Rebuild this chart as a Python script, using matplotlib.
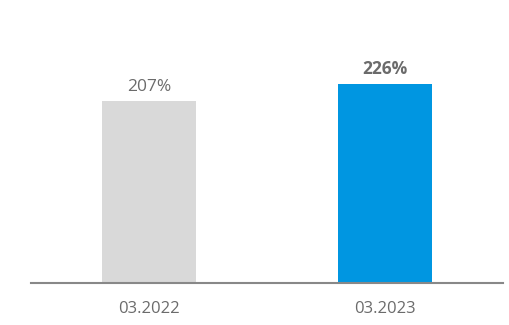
import matplotlib.pyplot as plt

# dati
periodi = ['03.2022', '03.2023']
valori = [207, 226]
colori = ['#d9d9d9', '#0096e1']

plt.rcParams['font.family'] = ['Open Sans', 'DejaVu Sans']

fig = plt.figure(figsize=(5.09, 3.25), dpi=100)
ax = fig.add_axes([31 / 509, 42.3 / 325, 472 / 509, 272.7 / 325])

x = range(len(periodi))
bars = ax.bar(x, valori, width=0.4, color=colori)

# etichette sopra le barre
for i, (b, v) in enumerate(zip(bars, valori)):
    ax.annotate(f'{v}%', (b.get_x() + b.get_width() / 2, v),
                xytext=(0, 4), textcoords='offset points',
                ha='center', va='bottom', fontsize=12.5, color='#6b6b6b',
                fontweight='bold' if i == 1 else 'normal')

ax.set_xlim(-0.5, 1.5)
ax.set_ylim(0, 310)
ax.set_xticks(list(x))
ax.set_xticklabels(periodi, fontsize=12, color='#6b6b6b')
ax.tick_params(axis='x', length=0, pad=13)
ax.set_yticks([])
for s in ['top', 'right', 'left']:
    ax.spines[s].set_visible(False)
ax.spines['bottom'].set_color('#888888')
ax.spines['bottom'].set_linewidth(1.5)

plt.savefig('out.png')
